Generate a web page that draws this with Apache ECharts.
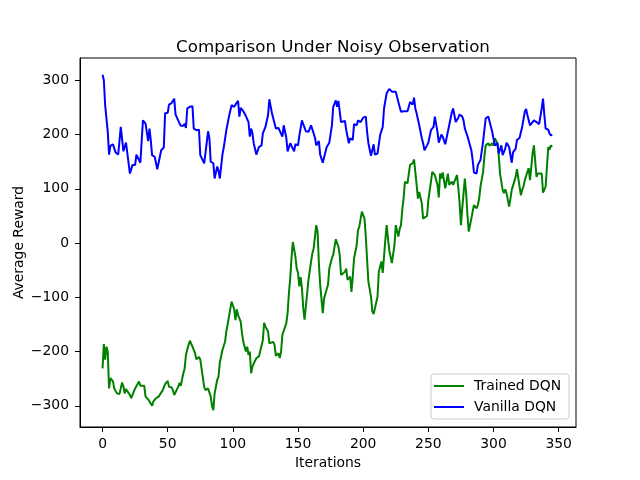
<!DOCTYPE html>
<html>
<head>
    <meta charset="UTF-8"/>
    <title>Comparison Under Noisy Observation</title>
    <script src="https://cdn.jsdelivr.net/npm/echarts@6.0.0/dist/echarts.min.js"></script>
    <style>
        html, body { margin: 0; padding: 0; background: #fff; }
    </style>
</head>
<body>
<div id="main" style="width: 640px; height: 480px;"></div>
<script>
    // values
    var vanillaIter = [0, 1, 2, 4, 5, 6, 8, 10, 12, 14, 16, 18, 19, 21, 23, 25, 26, 27, 29, 31, 33, 35, 36, 37, 38, 40, 42, 43, 45, 47, 48,
        50, 51, 53, 55, 56, 57, 58, 60, 62, 63, 64, 65, 67, 69, 70, 72, 74, 75, 76, 78, 79, 81, 82, 83, 85, 86, 88, 89, 90, 92, 93, 95, 97, 98, 99,
        101, 102, 104, 105, 106, 108, 110, 112, 113, 114, 115, 116, 118, 120, 122, 123, 125, 127, 128, 130, 131, 133, 135, 136, 138, 139, 141, 142, 144, 145, 147, 148,
        150, 151, 153, 154, 155, 156, 158, 160, 162, 163, 164, 166, 167, 169, 170, 172, 174, 176, 177, 179, 180, 181, 183, 184, 186, 187, 189, 190, 192, 193, 195, 196, 198,
        200, 202, 203, 204, 206, 208, 209, 211, 213, 215, 216, 217, 218, 220, 222, 225, 227, 228, 229, 231, 234, 236, 238, 239, 240, 241, 243, 245, 246, 247, 249,
        250, 252, 254, 255, 257, 258, 260, 261, 263, 264, 266, 268, 269, 271, 273, 274, 276, 277, 278, 280, 281, 283, 284, 285, 287, 288, 290, 292, 293, 294, 296, 297, 299,
        300, 301, 303, 304, 306, 307, 309, 310, 312, 313, 314, 315, 317, 318, 320, 322, 324, 325, 326, 328, 329, 331, 333, 335, 336, 337, 338, 339, 340, 342, 343, 344, 345];
    var vanillaReward = [310, 300, 254, 205, 163, 179, 182, 167, 163, 214, 169, 185, 184, 128, 144, 144, 163, 162, 148, 226, 220, 188, 211, 190, 162, 159, 136, 139, 171, 176, 239,
        240, 255, 258, 266, 237, 236, 226, 216, 216, 220, 212, 248, 251, 252, 211, 208, 209, 162, 162, 147, 149, 206, 193, 150, 147, 119, 141, 133, 119, 163, 176, 208, 233, 234, 254,
        251, 255, 262, 233, 249, 243, 234, 223, 196, 211, 202, 184, 163, 177, 180, 202, 214, 236, 265, 239, 237, 211, 212, 211, 196, 217, 194, 169, 184, 185, 169, 182,
        180, 198, 226, 219, 220, 206, 205, 217, 202, 194, 180, 188, 163, 148, 149, 177, 185, 217, 251, 263, 251, 262, 223, 222, 225, 208, 184, 193, 190, 219, 217, 226, 223,
        231, 233, 205, 184, 161, 182, 163, 165, 199, 214, 248, 251, 276, 284, 279, 279, 260, 260, 242, 243, 243, 260, 255, 268, 248, 239, 217, 193, 184, 171, 180,
        185, 208, 214, 233, 205, 185, 200, 196, 182, 184, 217, 241, 248, 223, 231, 237, 233, 226, 211, 197, 196, 171, 153, 130, 128, 144, 153, 187, 208, 230, 233, 230, 205,
        202, 180, 184, 165, 180, 162, 174, 185, 177, 162, 148, 167, 174, 190, 194, 214, 242, 247, 236, 217, 220, 226, 223, 219, 220, 248, 266, 236, 211, 209, 202, 198, 200];

    var trainedIter = [0, 1, 2, 3, 4, 5, 6, 8, 9, 11, 13, 15, 16, 17, 18, 19, 21, 22, 24, 25, 26, 28, 29, 30, 32, 33, 35, 36, 38, 39, 41, 43, 44, 46, 47, 48,
        50, 51, 53, 54, 55, 56, 58, 59, 60, 62, 63, 64, 65, 67, 69, 70, 71, 72, 74, 75, 76, 78, 79, 81, 82, 83, 84, 85, 86, 88, 89, 90, 92, 93, 94, 95, 97, 98, 99,
        101, 102, 103, 104, 106, 107, 108, 110, 111, 112, 113, 114, 115, 116, 118, 120, 121, 123, 124, 125, 127, 128, 129, 131, 132, 133, 135, 136, 137, 138, 139, 141, 142, 143, 144, 145, 146, 148, 149,
        150, 151, 152, 153, 154, 155, 156, 157, 158, 160, 161, 162, 164, 165, 166, 167, 168, 169, 170, 172, 173, 174, 176, 177, 178, 179, 181, 182, 183, 184, 186, 187, 188, 190, 191, 192, 193, 195, 196, 197, 199,
        201, 202, 203, 204, 206, 207, 208, 209, 211, 212, 213, 214, 215, 217, 218, 219, 220, 222, 223, 224, 225, 227, 228, 229, 230, 231, 232, 234, 235, 236, 238, 239, 240, 241, 242, 243, 245, 246, 247, 249,
        250, 252, 253, 254, 255, 257, 258, 259, 260, 261, 263, 264, 265, 266, 268, 269, 270, 272, 273, 274, 275, 276, 278, 279, 280, 281, 283, 284, 285, 287, 288, 289, 290, 292, 293, 294, 296, 297, 299,
        300, 301, 303, 304, 305, 307, 308, 309, 310, 312, 313, 314, 315, 317, 318, 319, 321, 322, 323, 324, 326, 327, 328, 329, 330, 331, 333, 334, 335, 337, 338, 339, 340, 342, 343, 344, 345];
    var trainedReward = [-231, -186, -215, -191, -200, -268, -249, -255, -268, -277, -278, -257, -264, -277, -269, -273, -280, -286, -274, -268, -269, -255, -263, -262, -263, -283, -288, -292, -300, -292, -286, -283, -280, -272, -266, -260,
        -254, -265, -266, -271, -280, -277, -265, -258, -263, -240, -231, -206, -196, -180, -191, -194, -203, -214, -210, -215, -212, -265, -271, -268, -271, -283, -300, -308, -277, -252, -246, -220, -197, -197, -182, -163, -136, -136, -108,
        -122, -142, -122, -133, -145, -166, -182, -200, -191, -206, -200, -240, -228, -222, -212, -209, -209, -179, -147, -154, -163, -185, -182, -182, -188, -208, -203, -212, -200, -169, -167, -148, -129, -93, -65, -28, 2, -25, -47,
        -55, -80, -63, -83, -120, -141, -141, -93, -68, -34, -19, -10, 33, 21, -37, -77, -80, -129, -102, -85, -77, -47, -28, -22, -7, 7, -7, -22, -59, -62, -53, -47, -68, -62, -90, -62, -28, -4, 24, 30, 58,
        45, 12, -31, -71, -99, -126, -131, -130, -99, -53, -50, -34, -55, 6, 33, 9, -13, -37, -34, -4, 33, 12, 26, 33, 61, 82, 113, 110, 128, 144, 147, 154, 131, 107, 82, 94, 73, 45, 48, 50,
        79, 113, 131, 128, 125, 107, 84, 128, 119, 130, 101, 98, 128, 107, 113, 107, 110, 125, 101, 73, 33, 64, 119, 92, 52, 21, 45, 58, 70, 64, 70, 82, 104, 131, 159, 180, 184, 179, 184,
        179, 193, 184, 162, 128, 98, 92, 99, 92, 67, 82, 98, 101, 122, 136, 135, 88, 98, 104, 116, 131, 138, 116, 117, 165, 180, 122, 128, 125, 128, 93, 94, 104, 177, 172, 180, 177];

    var xTicks = [0, 50, 100, 150, 200, 250, 300, 350];
    var yTicks = [-300, -200, -100, 0, 100, 200, 300];

    function pairs(xs, ys) {
        var out = [];
        for (var i = 0; i < xs.length; i++) {
            out.push([xs[i], ys[i]]);
        }
        return out;
    }

    // matplotlib draws negative ticks with a real minus sign
    function minusLabel(v) {
        return String(v).replace('-', '\u2212');
    }

    var font = 'DejaVu Sans';
    var myChart = echarts.init(document.getElementById('main'), null, {renderer: 'canvas'});

    var option = {
        animation: false,
        backgroundColor: '#fff',
        textStyle: {fontFamily: font},
        title: {
            text: 'Comparison Under Noisy Observation',
            left: 328,
            textAlign: 'center',
            top: 34,
            textStyle: {fontFamily: font, fontSize: 16.7, fontWeight: 'normal', color: '#000'}
        },
        grid: {
            left: 80, right: 64, top: 58, bottom: 53,
            show: true, borderColor: '#000', borderWidth: 1,
            containLabel: false,
            outerBoundsMode: 'none'
        },
        legend: {
            orient: 'vertical',
            left: 431, top: 374,
            padding: [5, 8, 5, 3],
            itemGap: 7,
            itemWidth: 30, itemHeight: 2,
            icon: 'rect',
            borderColor: '#ccc', borderWidth: 1, borderRadius: 3,
            backgroundColor: 'rgba(255,255,255,0.8)',
            textStyle: {fontFamily: font, fontSize: 13.9, color: '#000', padding: [0, 0, 0, 5]},
            data: ['Trained DQN', 'Vanilla DQN']
        },
        xAxis: {
            type: 'value',
            min: -17.3, max: 363.3,
            name: 'Iterations',
            nameLocation: 'middle',
            nameGap: 29,
            nameMoveOverlap: false,
            nameTextStyle: {fontFamily: font, fontSize: 13.9, color: '#000'},
            axisLine: {onZero: false, lineStyle: {color: '#000'}},
            axisTick: {show: true, length: 5, lineStyle: {color: '#000'}, customValues: xTicks},
            axisLabel: {fontFamily: font, fontSize: 13.9, color: '#000', margin: 10, customValues: xTicks},
            splitLine: {show: false}
        },
        yAxis: {
            type: 'value',
            min: -339, max: 341,
            name: 'Average Reward',
            nameLocation: 'middle',
            nameGap: 54,
            nameMoveOverlap: false,
            nameTextStyle: {fontFamily: font, fontSize: 13.9, color: '#000'},
            axisLine: {show: true, onZero: false, lineStyle: {color: '#000'}},
            axisTick: {show: true, length: 5, lineStyle: {color: '#000'}, customValues: yTicks},
            axisLabel: {fontFamily: font, fontSize: 13.9, color: '#000', margin: 11, customValues: yTicks, formatter: minusLabel},
            splitLine: {show: false}
        },
        series: [{
            name: 'Trained DQN',
            type: 'line',
            symbol: 'none',
            color: '#008000',
            lineStyle: {width: 2, color: '#008000'},
            data: pairs(trainedIter, trainedReward)
        }, {
            name: 'Vanilla DQN',
            type: 'line',
            symbol: 'none',
            color: '#0000ff',
            lineStyle: {width: 2, color: '#0000ff'},
            data: pairs(vanillaIter, vanillaReward)
        }]
    };
    myChart.setOption(option);
</script>
</body>
</html>
